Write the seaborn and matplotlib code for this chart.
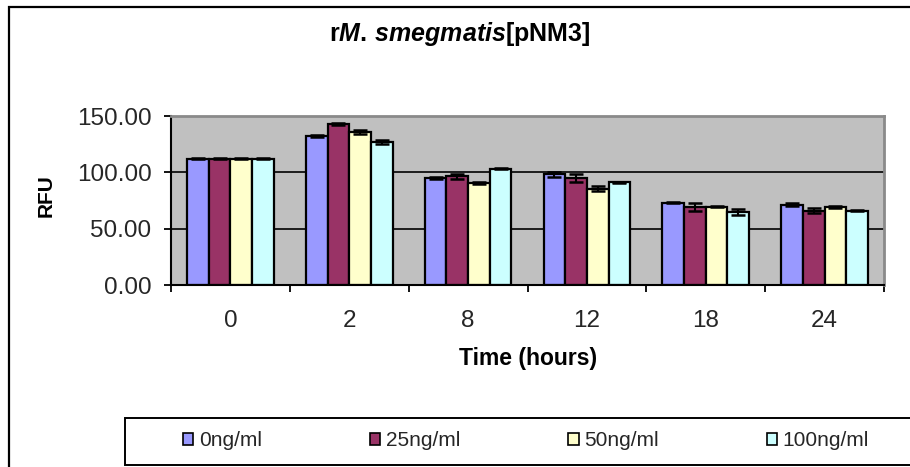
import pandas as pd
import seaborn as sns
import matplotlib.pyplot as plt
from matplotlib.patches import Rectangle, Patch
from matplotlib.ticker import FixedLocator, FormatStrFormatter

# Data
times = ['0', '2', '8', '12', '18', '24']
concs = ['0ng/ml', '25ng/ml', '50ng/ml', '100ng/ml']
colors = ['#9999FF', '#993366', '#FFFFCC', '#CCFFFF']

rfu_0 = [112.0, 132.2, 94.9, 98.1, 73.2, 71.4]
rfu_25 = [112.0, 142.9, 96.4, 94.9, 69.4, 66.1]
rfu_50 = [112.0, 135.8, 90.7, 85.4, 69.4, 69.4]
rfu_100 = [112.0, 126.9, 103.2, 91.0, 64.6, 66.1]

err_0 = [0.5, 1.0, 0.8, 1.8, 0.3, 1.0]
err_25 = [0.5, 0.5, 2.5, 3.7, 3.7, 1.8]
err_50 = [0.5, 1.9, 1.0, 2.1, 0.3, 1.0]
err_100 = [0.5, 1.8, 0.5, 0.8, 2.7, 0.3]

values = [rfu_0, rfu_25, rfu_50, rfu_100]
errors = [err_0, err_25, err_50, err_100]

df = pd.DataFrame({
    'time': times * 4,
    'conc': [c for c in concs for _ in times],
    'rfu': [v for series in values for v in series],
})

sns.set_theme(style='white')
plt.rcParams['font.family'] = ['Liberation Sans', 'DejaVu Sans']
plt.rcParams['mathtext.fontset'] = 'custom'
plt.rcParams['mathtext.rm'] = 'Liberation Sans:bold'
plt.rcParams['mathtext.bf'] = 'Liberation Sans:bold'
plt.rcParams['mathtext.it'] = 'Liberation Sans:bold:italic'

W, H = 910, 467
fig = plt.figure(figsize=(W / 100, H / 100), dpi=100)
fig.patch.set_facecolor('white')

# plot area in pixels: x 171..884, y 116..285
ax = fig.add_axes([171 / W, 1 - 285 / H, (884 - 171) / W, (285 - 116) / H])
ax.set_facecolor('#C0C0C0')

sns.barplot(data=df, x='time', y='rfu', hue='conc', order=times, hue_order=concs,
            palette=colors, width=0.73, edgecolor='black', linewidth=1.6,
            errorbar=None, legend=False, saturation=1, ax=ax, zorder=2)

for cont, errs in zip(ax.containers, errors):
    xs = [p.get_x() + p.get_width() / 2 for p in cont]
    ys = [p.get_height() for p in cont]
    ax.errorbar(xs, ys, yerr=errs, fmt='none', ecolor='black', elinewidth=1.5,
                capsize=5, capthick=1.8, zorder=3)

ax.set_ylim(0, 150)
ax.set_xlim(-0.5, 5.5)
ax.set_yticks([0, 50, 100, 150])
ax.yaxis.set_major_formatter(FormatStrFormatter('%.2f'))
ax.set_axisbelow(True)
ax.yaxis.grid(True, color='black', linewidth=1.2)
ax.xaxis.grid(False)
gl = ax.get_ygridlines()
gl[0].set_visible(False)
gl[-1].set_visible(False)

# category boundaries get the tick marks, labels sit in the middle
ax.xaxis.set_major_locator(FixedLocator([i - 0.5 for i in range(len(times) + 1)]))
ax.xaxis.set_minor_locator(FixedLocator(list(range(len(times)))))
ax.set_xticklabels([''] * (len(times) + 1))
ax.set_xticklabels(times, minor=True)
ax.tick_params(axis='x', which='major', direction='out', length=5, width=1.3,
               color='black', bottom=True)
ax.tick_params(axis='x', which='minor', length=0, pad=18, labelsize=17.5)
ax.tick_params(axis='y', direction='out', length=5, width=1.3, color='black',
               left=True, pad=9, labelsize=17.5)
ax.set_xlabel('')
ax.set_ylabel('')

for side in ['left', 'bottom']:
    ax.spines[side].set_color('black')
    ax.spines[side].set_linewidth(1.5)
for side in ['top', 'right']:
    ax.spines[side].set_color('#8a8a8a')
    ax.spines[side].set_linewidth(2)

# titles
fig.text(460 / W, 1 - 34 / H, r'$\mathrm{r}\mathit{M.\,smegmatis}\mathrm{[pNM3]}$',
         ha='center', va='center', fontsize=18, color='black')
fig.text(528 / W, 1 - 358 / H, 'Time (hours)', ha='center', va='center',
         fontsize=16.5, fontweight='bold', color='black')
fig.text(46 / W, 1 - 196 / H, 'RFU', ha='center', va='center', rotation=90,
         fontsize=15, fontweight='bold', color='black')

# outer chart frame and legend box
fig.add_artist(Rectangle((9 / W, -0.1), 1.2, 1.1 - 7 / H, transform=fig.transFigure,
                         fill=False, edgecolor='black', linewidth=1.6, clip_on=False))
fig.add_artist(Rectangle((125 / W, 1 - 465 / H), 1.0, (465 - 418) / H,
                         transform=fig.transFigure, facecolor='white',
                         edgecolor='black', linewidth=1.4, clip_on=False))

handles = [Patch(facecolor=c, edgecolor='black', linewidth=1.2) for c in colors]
fig.legend(handles, concs, loc='center', bbox_to_anchor=(526 / W, 1 - 441 / H),
           ncol=4, frameon=False, fontsize=15, handlelength=0.5, handleheight=0.5,
           handletextpad=0.25, columnspacing=5.2)

fig.savefig('out.png', dpi=100)
